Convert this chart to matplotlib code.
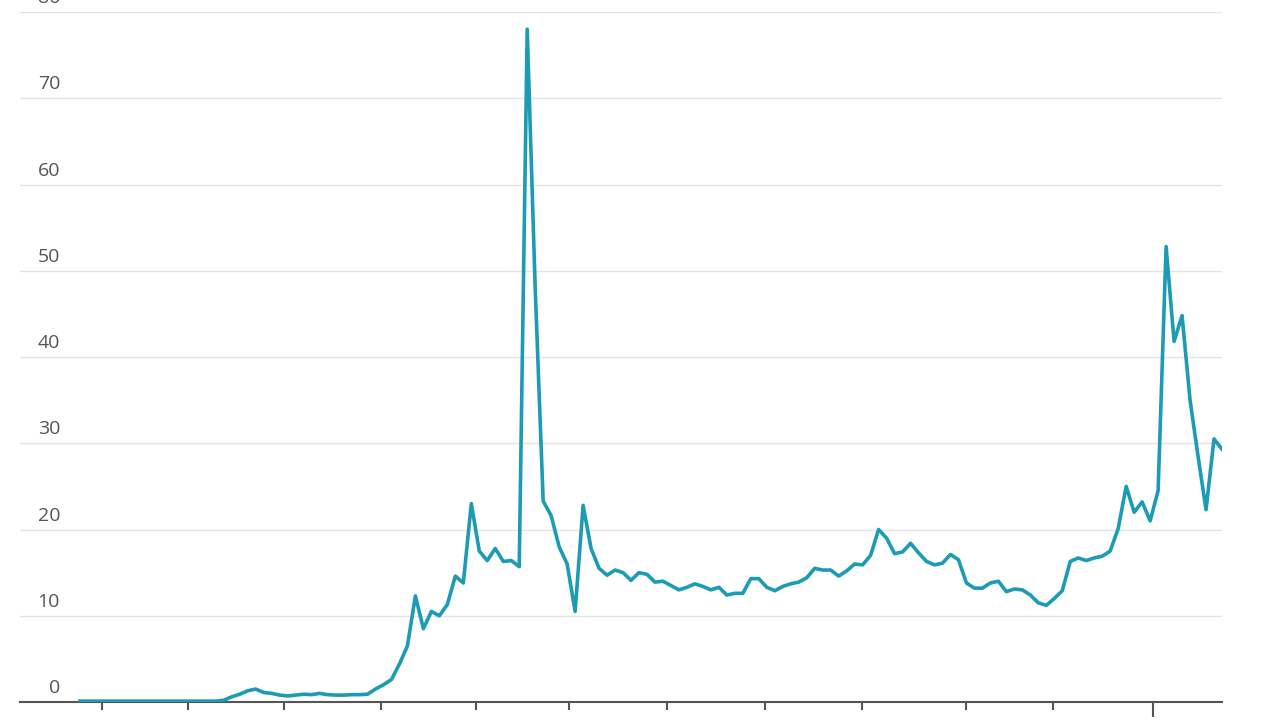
import numpy as np
import matplotlib
matplotlib.use("Agg")
import matplotlib.pyplot as plt

# monthly values
values = [
    0.1, 0.1, 0.1, 0.1, 0.1, 0.1, 0.1, 0.1, 0.1, 0.1,
    0.1, 0.1, 0.1, 0.1, 0.1, 0.1, 0.1, 0.1, 0.2, 0.6,
    0.9, 1.3, 1.5, 1.1, 1.0, 0.8, 0.7, 0.8, 0.9, 0.85,
    1.0, 0.85, 0.8, 0.8, 0.85, 0.85, 0.9, 1.5, 2.0, 2.6,
    4.4, 6.5, 12.3, 8.5, 10.5, 10.0, 11.3, 14.6, 13.8, 23.0,
    17.5, 16.4, 17.8, 16.3, 16.4, 15.7, 78.0, 48.0, 23.3, 21.6,
    18.0, 16.0, 10.5, 22.8, 17.8, 15.5, 14.7, 15.3, 15.0, 14.1,
    15.0, 14.8, 13.9, 14.0, 13.5, 13.0, 13.3, 13.7, 13.4, 13.0,
    13.3, 12.4, 12.6, 12.6, 14.3, 14.3, 13.3, 12.9, 13.4, 13.7,
    13.9, 14.4, 15.5, 15.3, 15.3, 14.6, 15.2, 16.0, 15.9, 17.0,
    20.0, 19.0, 17.2, 17.4, 18.4, 17.3, 16.3, 15.9, 16.1, 17.1,
    16.5, 13.8, 13.2, 13.2, 13.8, 14.0, 12.8, 13.1, 13.0, 12.4,
    11.5, 11.2, 12.0, 12.9, 16.3, 16.7, 16.4, 16.7, 16.9, 17.5,
    20.1, 25.0, 22.0, 23.2, 21.0, 24.5, 52.8, 41.8, 44.8, 35.0,
    28.5, 22.3, 30.5, 29.3,
]
months = np.arange(len(values))

y_ticks = [0, 10, 20, 30, 40, 50, 60, 70, 80]
x_ticks = [2.75, 13.5, 25.5, 37.7, 49.6, 61.2, 73.5, 85.8, 97.9, 110.9, 121.8]
x_tick_long = [134.4]

line_color = "#1c9bb4"
axis_color = "#555555"

fig = plt.figure(figsize=(12.8, 7.2), dpi=100)
ax = fig.add_axes([20 / 1280, 18 / 720, 1202 / 1280, 690 / 720])

ax.plot(months, values, color=line_color, linewidth=2.6, solid_joinstyle="round", zorder=3)

ax.set_xlim(-7.51, 143)
ax.set_ylim(0, 80)

ax.set_yticks(y_ticks)
ax.yaxis.grid(True, color="#e4e4e4", linewidth=1)
ax.tick_params(axis="y", length=0, labelleft=False)

for v in y_ticks:
    ax.text(0.0333, v + 1.6, str(v), transform=ax.get_yaxis_transform(),
            ha="right", va="center", fontsize=14, color=axis_color,
            family="Open Sans", clip_on=False)

ax.set_xticks(x_ticks)
ax.set_xticks(x_tick_long, minor=True)
ax.tick_params(axis="x", which="major", length=6, width=1.5, color=axis_color,
               labelbottom=False, direction="out")
ax.tick_params(axis="x", which="minor", length=11, width=1.5, color=axis_color,
               labelbottom=False, direction="out")

for side in ["top", "right", "left"]:
    ax.spines[side].set_visible(False)
ax.spines["bottom"].set_color(axis_color)
ax.spines["bottom"].set_linewidth(1.5)

fig.savefig("out.png", dpi=100)
